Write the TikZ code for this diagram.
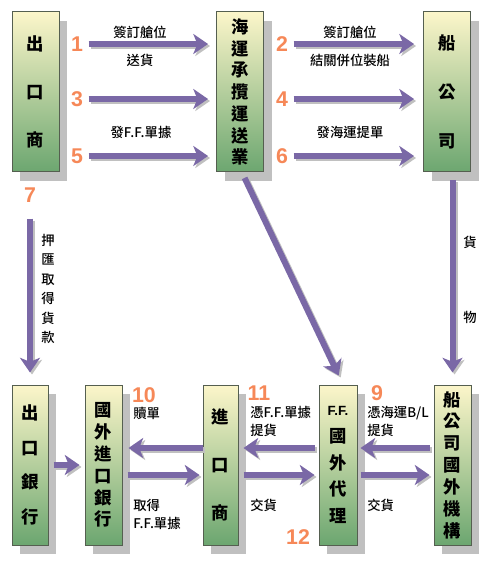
\documentclass[tikz,border=0pt]{standalone}
\usepackage{fontspec}
\setmainfont{Noto Sans CJK TC}
\newfontfamily\notefont{Noto Sans CJK TC}[UprightFont={* Medium}]
\newfontfamily\numfont{Liberation Sans}
\usepackage{xcolor}
\usetikzlibrary{arrows.meta,shadows}

\definecolor{flowpurple}{RGB}{122,104,166}
\definecolor{steporange}{RGB}{246,136,88}
\definecolor{boxtop}{RGB}{252,246,202}
\definecolor{boxbottom}{RGB}{108,166,112}
\definecolor{boxline}{RGB}{85,95,80}
\definecolor{shadegray}{RGB}{192,192,192}

\newcommand\boxfont[1]{\bfseries\fontsize{13}{#1}\selectfont}
\newcommand\flowarrow[3][]{%
  \draw[flowshade,#1] #2 -- #3;
  \draw[flow,#1] #2 -- #3;}

\tikzset{
  party/.style={draw=boxline, line width=0.75pt, top color=boxtop, bottom color=boxbottom,
    minimum height=120pt, inner sep=0pt, align=center,
    general shadow={fill=shadegray, shadow xshift=6pt, shadow yshift=-7pt}},
  flow/.style={draw=flowpurple, line width=4.5pt, -{Stealth[length=11pt,width=15pt,inset=3pt]}},
  flowshade/.style={draw=shadegray, line width=4.5pt, -{Stealth[length=11pt,width=15pt,inset=3pt]},
    transform canvas={shift={(1.5pt,-1.5pt)}}},
  stepno/.style={font=\numfont\bfseries\fontsize{16}{16}\selectfont, text=steporange, inner sep=1pt},
  note/.style={font=\notefont\fontsize{10}{13.5}\selectfont, inner sep=0pt, align=left},
}

\begin{document}
\begin{tikzpicture}[x=0.75pt,y=0.75pt,yscale=-1,xscale=1]
\useasboundingbox (0,0) rectangle (484,570);

% parties, top row
\node [party, minimum width=35.25pt, font={\boxfont{36}}] (exporter) at (35.5,92) {出\\口\\商};
\node [party, minimum width=35.25pt, font={\boxfont{16.3}}] (forwarder) at (240,92) {海\\運\\承\\攬\\運\\送\\業};
\node [party, minimum width=35.25pt, font={\boxfont{36.8}}] (carrier) at (447,92) {船\\公\\司};

% parties, bottom row
\node [party, minimum width=27pt, font={\boxfont{26}}] (expbank) at (30,465) {出\\口\\銀\\行};
\node [party, minimum width=27.75pt, font={\boxfont{16.4}}] (impbank) at (103.5,465) {國\\外\\進\\口\\銀\\行};
\node [party, minimum width=26.25pt, font={\boxfont{36}}] (importer) at (220.5,465) {進\\口\\商};
\node [party, minimum width=28.5pt, font={\boxfont{20}}] (agent) at (338,465) {{\numfont\fontsize{10}{20}\selectfont F.F.}\\國\\外\\代\\理};
\node [party, minimum width=27.75pt, font={\boxfont{16.4}}] (carrieragent) at (452.5,465) {船\\公\\司\\國\\外\\機\\構};

% step numbers
\node [stepno] (n1) at (77,44) {1};
\node [stepno] (n3) at (77,99) {3};
\node [stepno] (n5) at (77,156) {5};
\node [stepno] (n2) at (282,44) {2};
\node [stepno] (n4) at (282,99) {4};
\node [stepno] (n6) at (282,156) {6};
\node [stepno] (n7) at (30,195) {7};
\node [stepno] (n10) at (144,395) {10};
\node [stepno] (n11) at (259,393) {11};
\node [stepno] (n9) at (377,393) {9};
\node [stepno] (n12) at (298,537) {12};

% top row flows
\flowarrow[shorten <=3pt, shorten >=6pt]{(n1.east)}{(forwarder.west |- n1)}
\flowarrow[shorten <=3pt, shorten >=6pt]{(n3.east)}{(forwarder.west |- n3)}
\flowarrow[shorten <=3pt, shorten >=6pt]{(n5.east)}{(forwarder.west |- n5)}
\flowarrow[shorten <=3pt, shorten >=6.75pt]{(n2.east)}{(carrier.west |- n2)}
\flowarrow[shorten <=3pt, shorten >=6.75pt]{(n4.east)}{(carrier.west |- n4)}
\flowarrow[shorten <=3pt, shorten >=6.75pt]{(n6.east)}{(carrier.west |- n6)}

\node [note, anchor=center] (book1) at (140,32) {簽訂艙位};
\node [note, anchor=center] (ship1) at (140,60) {送貨};
\node [note, anchor=center] (docs1) at (141,132) {發F.F.單據};
\node [note, anchor=center] (book2) at (350,32) {簽訂艙位};
\node [note, anchor=center] (load2) at (350,60) {結關併位裝船};
\node [note, anchor=center] (bill2) at (350,132) {發海運提單};

% downward flows
\flowarrow[shorten <=11pt, shorten >=9pt]{(n7)}{(expbank.north)}
\node [note, align=center, font=\notefont\fontsize{10}{14.6}\selectfont] (nego) at (48,289) {押\\匯\\取\\得\\貨\\款};

\flowarrow[shorten <=4.5pt, shorten >=7.5pt]{([xshift=1.5pt]forwarder.south)}{([xshift=3.75pt]agent.north)}

\flowarrow[shorten <=6pt, shorten >=9pt]{(carrieragent.north |- carrier.south)}{(carrieragent.north)}
\node [note, align=center, font=\notefont\fontsize{10}{56.25}\selectfont] (cargo) at (470,279.5) {貨\\物};

% bottom row flows
\coordinate (back) at (0,448);
\coordinate (fwd) at (0,475);

\flowarrow[shorten <=3.75pt, shorten >=3.75pt]{(expbank.east)}{(impbank.west)}
\flowarrow[shorten >=4.5pt]{(importer.west |- back)}{(impbank.east |- back)}
\flowarrow[shorten <=3.75pt, shorten >=2.25pt]{(impbank.east |- fwd)}{(importer.west |- fwd)}
\flowarrow[shorten <=3pt, shorten >=3.75pt]{(agent.west |- back)}{(importer.east |- back)}
\flowarrow[shorten <=3.75pt, shorten >=3pt]{(importer.east |- fwd)}{(agent.west |- fwd)}
\flowarrow[shorten <=3pt, shorten >=2.25pt]{(carrieragent.west |- back)}{(agent.east |- back)}
\flowarrow[shorten <=2.25pt, shorten >=3pt]{(agent.east |- fwd)}{(carrieragent.west |- fwd)}

\node [note, anchor=west] (redeem) at (133,413) {贖單};
\node [note, anchor=west] (obtain) at (133,514) {取得\\F.F.單據};
\node [note, anchor=west] (pickup1) at (250,421.5) {憑F.F.單據\\提貨};
\node [note, anchor=west] (deliver1) at (250,505) {交貨};
\node [note, anchor=west] (pickup2) at (367,421.5) {憑海運B/L\\提貨};
\node [note, anchor=west] (deliver2) at (367,505) {交貨};

\end{tikzpicture}
\end{document}
